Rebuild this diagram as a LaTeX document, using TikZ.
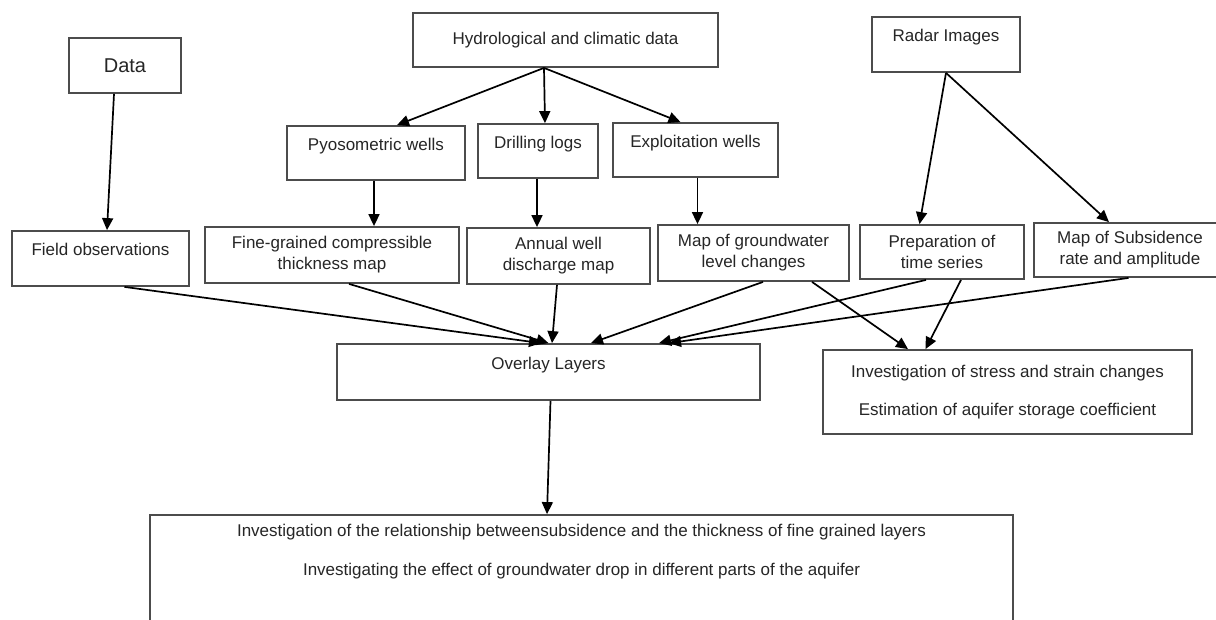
\documentclass[tikz,border=0pt]{standalone}
\usepackage{fontspec}
\setmainfont{Liberation Sans}
\usetikzlibrary{arrows.meta}
\usepackage{xcolor}

\tikzset{
  boxtext/.style={text=black!85,font=\fontsize{17}{21}\selectfont,align=center},
  box/.style={boxtext,draw=black!70,line width=1.8pt,inner sep=2pt},
  toptext/.style={text height=12pt,text depth=18pt},
  arr/.style={-{Triangle[length=12pt,width=11pt]},line width=1.7pt,black}
}

\begin{document}
\begin{tikzpicture}[x=1pt,y=-1pt]
\clip (0,0) rectangle (1216,619);
\fill[white] (0,0) rectangle (1216,619);

\node(data) at (125,65.5)[box,minimum width=112pt,minimum height=55pt,font=\fontsize{20}{24}\selectfont]{Data};
\node(hydro) at (565.5,40)[box,minimum width=305pt,minimum height=54pt]{Hydrological and climatic data};
\node(radar) at (946,44.5)[box,toptext,minimum width=148pt,minimum height=55pt]{Radar Images};

\node(pyo) at (376,153)[box,toptext,minimum width=178pt,minimum height=54pt]{Pyosometric wells};
\node(drill) at (538,151)[box,toptext,minimum width=120pt,minimum height=54pt]{Drilling logs};
\node(exploit) at (695.5,150)[box,toptext,minimum width=165pt,minimum height=54pt]{Exploitation wells};

\node(field) at (100.5,258.5)[box,toptext,minimum width=177pt,minimum height=55pt]{Field observations};
\node(fine) at (332,255)[box,minimum width=254pt,minimum height=56pt]{Fine-grained compressible\\thickness map};
\node(annual) at (558.5,256)[box,minimum width=183pt,minimum height=56pt]{Annual well\\discharge map};
\node(mapgw) at (753.5,253)[box,minimum width=191pt,minimum height=56pt]{Map of groundwater\\level changes};
\node(prep) at (942,252)[box,minimum width=164pt,minimum height=54pt]{Preparation of\\time series};
\node(mapsub) at (1130,250)[box,minimum width=192pt,minimum height=54pt]{Map of Subsidence\\rate and amplitude};

\node(overlay) at (548.5,372)[box,toptext,minimum width=423pt,minimum height=56pt]{Overlay Layers};
\node(stress) at (1007.5,392)[box,minimum width=369pt,minimum height=84pt]{Investigation of stress and strain changes\\[17pt]Estimation of aquifer storage coefficient};
\node(result) at (581.5,590)[box,minimum width=863pt,minimum height=150pt,
  label={[boxtext,anchor=north,yshift=-7pt]north:{Investigation of the relationship betweensubsidence and the thickness of fine grained layers\\[18pt]Investigating the effect of groundwater drop in different parts of the aquifer}}]{};

\draw[arr] ([xshift=-11pt]data.south) -- ([xshift=6.5pt]field.north);
\draw[arr] ([xshift=-21.5pt]hydro.south) -- ([xshift=21pt]pyo.north);
\draw[arr] ([xshift=-21.5pt]hydro.south) -- ([xshift=7pt]drill.north);
\draw[arr] ([xshift=-21.5pt]hydro.south) -- ([xshift=-15pt]exploit.north);
\draw[arr] ([xshift=-2pt]pyo.south) -- ([xshift=42pt]fine.north);
\draw[arr] ([xshift=-1pt]drill.south) -- ([xshift=-21.5pt]annual.north);
\draw[arr] ([xshift=2pt]exploit.south) -- ([xshift=-56pt]mapgw.north);
\draw[arr] (radar.south) -- ([xshift=-22.5pt]prep.north);
\draw[arr] (radar.south) -- ([xshift=-21pt]mapsub.north);

\draw[arr] ([xshift=24pt]field.south) -- ([xshift=-7.5pt]overlay.north);
\draw[arr] ([xshift=17pt]fine.south) -- (overlay.north);
\draw[arr] ([xshift=-1.5pt]annual.south) -- ([xshift=3.5pt]overlay.north);
\draw[arr] ([xshift=9.5pt]mapgw.south) -- ([xshift=42.5pt]overlay.north);
\draw[arr] ([xshift=58.5pt]mapgw.south) -- ([xshift=-99.5pt]stress.north);
\draw[arr] ([xshift=-16pt]prep.south) -- ([xshift=110.5pt]overlay.north);
\draw[arr] ([xshift=19pt]prep.south) -- ([xshift=-82pt]stress.north);
\draw[arr] ([xshift=-1.5pt]mapsub.south) -- ([xshift=120.5pt]overlay.north);
\draw[arr] ([xshift=2pt]overlay.south) -- ([xshift=-34.5pt]result.north);
\end{tikzpicture}
\end{document}
